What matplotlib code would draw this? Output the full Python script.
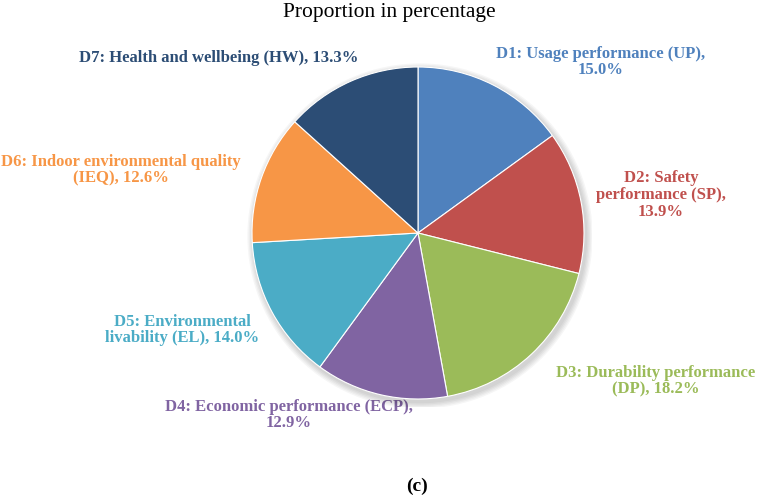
import matplotlib
matplotlib.use("Agg")
import matplotlib.pyplot as plt
from matplotlib.patches import Circle

plt.rcParams["font.family"] = ["Liberation Serif", "DejaVu Serif"]

# data
names = [
    "D1: Usage performance (UP),\n{:.1f}%",
    "D2: Safety\nperformance (SP),\n{:.1f}%",
    "D3: Durability performance\n(DP), {:.1f}%",
    "D4: Economic performance (ECP),\n{:.1f}%",
    "D5: Environmental\nlivability (EL), {:.1f}%",
    "D6: Indoor environmental quality\n(IEQ), {:.1f}%",
    "D7: Health and wellbeing (HW), {:.1f}%",
]
shares = [15.0, 13.9, 18.2, 12.9, 14.0, 12.6, 13.3]
colors = ["#4F81BD", "#C0504D", "#9BBB59", "#8064A2", "#4BACC6", "#F79646", "#2C4D75"]
text_colors = ["#4F81BD", "#C0504D", "#9BBB59", "#8064A2", "#4BACC6", "#F79646", "#2C4D75"]

W, H = 757, 496
fig = plt.figure(figsize=(W / 100, H / 100), dpi=100)
ax = fig.add_axes([0, 0, 1, 1])
ax.set_xlim(0, W)
ax.set_ylim(H, 0)
ax.axis("off")

# pie drawn in its own axes so wedges go clockwise from 12 o'clock
cx, cy, r = 418, 233, 166
pad = 8
pax = fig.add_axes([(cx - r - pad) / W, 1 - (cy + r + pad) / H,
                    2 * (r + pad) / W, 2 * (r + pad) / H])
# soft shadow under the pie
for k in range(1, 6):
    pax.add_patch(Circle((0.012, -0.018), 1 + k * 0.008, color="black",
                         alpha=0.035, lw=0, zorder=0))
pax.pie(shares, colors=colors, startangle=90, counterclock=False,
        wedgeprops=dict(edgecolor="white", linewidth=0.8, zorder=2))
lim = 1 + pad / r
pax.set_xlim(-lim, lim)
pax.set_ylim(-lim, lim)
pax.set_aspect("equal")
pax.axis("off")

# label positions (pixel centres)
label_pos = [(601, 62), (661, 195), (656, 381), (289, 415), (182, 330), (121, 170), (219, 58)]
for name, val, c, (x, y) in zip(names, shares, text_colors, label_pos):
    ax.text(x, y, name.format(val), color=c, fontsize=12, fontweight="bold",
            ha="center", va="center", linespacing=1.05)

ax.text(389, 12, "Proportion in percentage", fontsize=15.5, ha="center", va="center")
ax.text(417, 486, "(c)", fontsize=14, fontweight="bold", ha="center", va="center")

fig.savefig("out.png", dpi=100)
